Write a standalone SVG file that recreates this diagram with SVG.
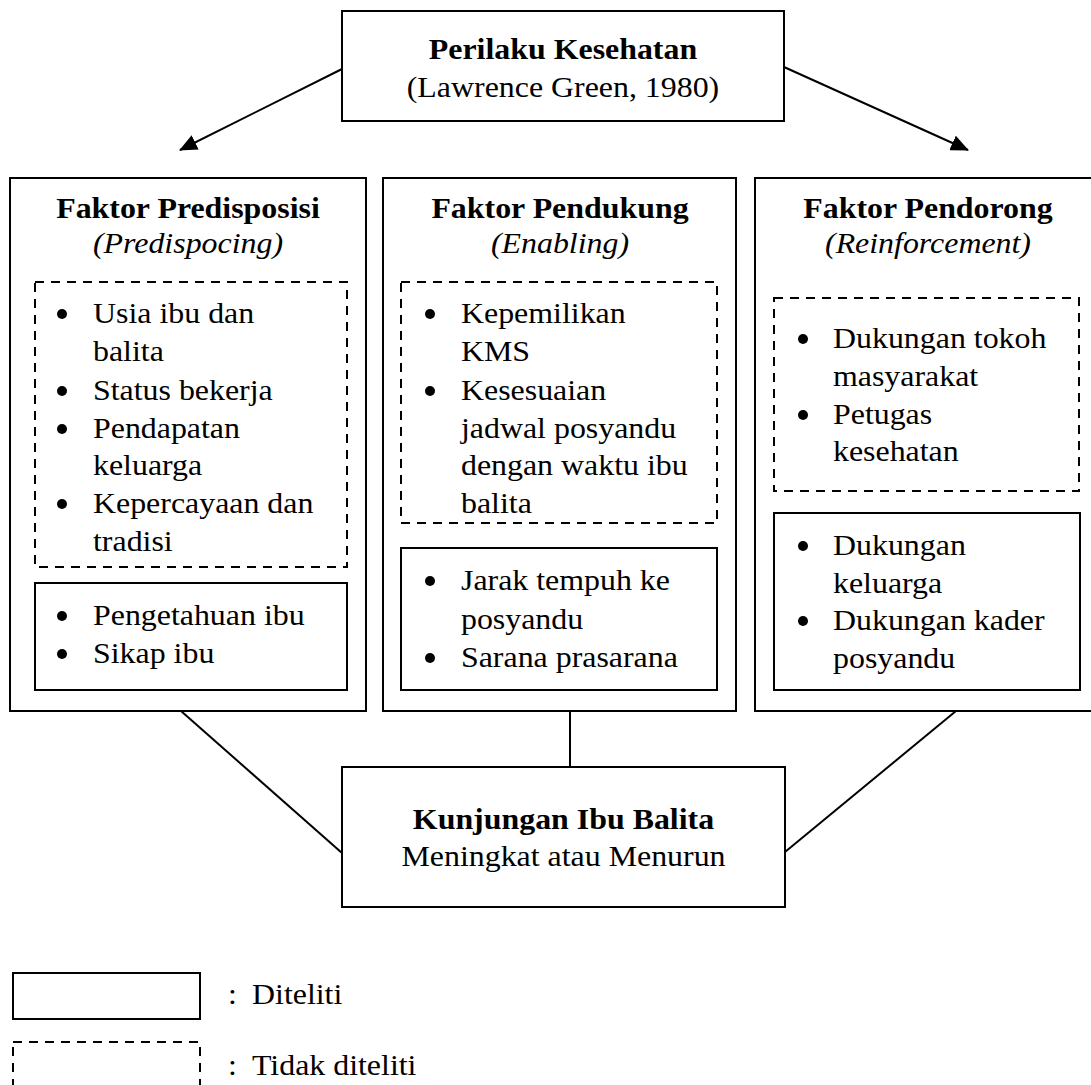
<svg xmlns="http://www.w3.org/2000/svg" width="1091" height="1085" viewBox="0 0 1091 1085">
<style>
.box{fill:#fff;stroke:#000;stroke-width:2}
.dash{fill:none;stroke:#000;stroke-width:2;stroke-dasharray:9 7}
.ln{fill:none;stroke:#000;stroke-width:2}
text{font-family:"Liberation Serif","Times New Roman",serif;font-size:29px;fill:#000}
.b{font-weight:bold}
.i{font-style:italic}
.c{text-anchor:middle}
.dot{fill:#000}
</style>
<defs>
<marker id="arr" markerUnits="userSpaceOnUse" markerWidth="18" markerHeight="16" viewBox="0 0 18 16" refX="17" refY="8" orient="auto">
<path d="M0,0 L18,8 L0,16 z" fill="#000"/>
</marker>
</defs>
<rect width="1091" height="1085" fill="#fff"/>

<g id="connectors">
<line class="ln" x1="342" y1="69" x2="180" y2="150" marker-end="url(#arr)"/>
<line class="ln" x1="784" y1="67" x2="968" y2="150" marker-end="url(#arr)"/>
<line class="ln" x1="181" y1="711" x2="342" y2="853"/>
<line class="ln" x1="570" y1="711" x2="570" y2="767"/>
<line class="ln" x1="956" y1="711" x2="785" y2="852"/>
</g>

<g id="node-perilaku">
<rect class="box" x="342" y="11" width="442" height="110"/>
<g transform="scale(1.1 1)">
<text class="b c" x="511.82" y="59">Perilaku Kesehatan</text>
<text class="c" x="511.82" y="97">(Lawrence Green, 1980)</text>
</g>
</g>

<g id="node-predisposisi">
<rect class="box" x="10" y="178" width="356" height="533"/>
<rect class="dash" x="35" y="282" width="312" height="285"/>
<rect class="box" x="35" y="583" width="312" height="107"/>
<circle class="dot" cx="62" cy="314" r="5"/>
<circle class="dot" cx="62" cy="391" r="5"/>
<circle class="dot" cx="62" cy="429" r="5"/>
<circle class="dot" cx="62" cy="504" r="5"/>
<circle class="dot" cx="62" cy="616" r="5"/>
<circle class="dot" cx="62" cy="654" r="5"/>
<g transform="scale(1.1 1)">
<text class="b c" x="170.91" y="218">Faktor Predisposisi</text>
<text class="i c" x="170.91" y="253">(Predispocing)</text>
<text x="84.55" y="323">Usia ibu dan</text>
<text x="84.55" y="361">balita</text>
<text x="84.55" y="400">Status bekerja</text>
<text x="84.55" y="438">Pendapatan</text>
<text x="84.55" y="475">keluarga</text>
<text x="84.55" y="513">Kepercayaan dan</text>
<text x="84.55" y="551">tradisi</text>
<text x="84.55" y="625">Pengetahuan ibu</text>
<text x="84.55" y="663">Sikap ibu</text>
</g>
</g>

<g id="node-pendukung">
<rect class="box" x="383" y="178" width="353" height="533"/>
<rect class="dash" x="401" y="282" width="316" height="241"/>
<rect class="box" x="401" y="548" width="316" height="142"/>
<circle class="dot" cx="430" cy="314" r="5"/>
<circle class="dot" cx="430" cy="391" r="5"/>
<circle class="dot" cx="430" cy="581" r="5"/>
<circle class="dot" cx="430" cy="658" r="5"/>
<g transform="scale(1.1 1)">
<text class="b c" x="509.09" y="218">Faktor Pendukung</text>
<text class="i c" x="509.09" y="253">(Enabling)</text>
<text x="419.09" y="323">Kepemilikan</text>
<text x="419.09" y="361">KMS</text>
<text x="419.09" y="400">Kesesuaian</text>
<text x="419.09" y="438">jadwal posyandu</text>
<text x="419.09" y="475">dengan waktu ibu</text>
<text x="419.09" y="513">balita</text>
<text x="419.09" y="590">Jarak tempuh ke</text>
<text x="419.09" y="629">posyandu</text>
<text x="419.09" y="667">Sarana prasarana</text>
</g>
</g>

<g id="node-pendorong">
<rect class="box" x="755" y="178" width="346" height="533"/>
<rect class="dash" x="774" y="298" width="305" height="193"/>
<rect class="box" x="774" y="513" width="306" height="177"/>
<circle class="dot" cx="803" cy="339" r="5"/>
<circle class="dot" cx="803" cy="415" r="5"/>
<circle class="dot" cx="803" cy="546" r="5"/>
<circle class="dot" cx="803" cy="621" r="5"/>
<g transform="scale(1.1 1)">
<text class="b c" x="843.64" y="218">Faktor Pendorong</text>
<text class="i c" x="843.64" y="253">(Reinforcement)</text>
<text x="757.27" y="348">Dukungan tokoh</text>
<text x="757.27" y="386">masyarakat</text>
<text x="757.27" y="424">Petugas</text>
<text x="757.27" y="461">kesehatan</text>
<text x="757.27" y="555">Dukungan</text>
<text x="757.27" y="593">keluarga</text>
<text x="757.27" y="630">Dukungan kader</text>
<text x="757.27" y="668">posyandu</text>
</g>
</g>

<g id="node-kunjungan">
<rect class="box" x="342" y="767" width="443" height="140"/>
<g transform="scale(1.1 1)">
<text class="b c" x="512.27" y="829">Kunjungan Ibu Balita</text>
<text class="c" x="512.27" y="866">Meningkat atau Menurun</text>
</g>
</g>

<g id="legend">
<rect class="box" x="13" y="973" width="187" height="46"/>
<rect class="dash" x="13" y="1042" width="187" height="60"/>
<g transform="scale(1.1 1)">
<text x="207.27" y="1004">:</text>
<text x="229.09" y="1004">Diteliti</text>
<text x="207.27" y="1075">:</text>
<text x="229.09" y="1075">Tidak diteliti</text>
</g>
</g>
</svg>
